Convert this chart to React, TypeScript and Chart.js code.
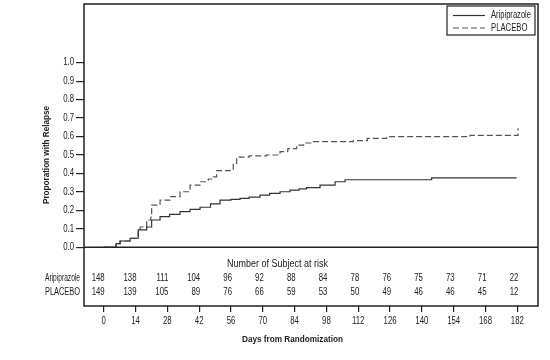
import React, { useEffect, useRef } from "react";
import { Chart, registerables } from "chart.js";

Chart.register(...registerables);

// ---- data ----
const seriesNames = ["Aripiprazole", "PLACEBO"];
const xTicks = [0, 14, 28, 42, 56, 70, 84, 98, 112, 126, 140, 154, 168, 182];
const yTicks = [0, 0.1, 0.2, 0.3, 0.4, 0.5, 0.6, 0.7, 0.8, 0.9, 1.0];

const ariDays = [0, 5.4, 7.2, 11.6, 15.2, 18.9, 21.1, 24.8, 29, 33.6, 38, 42.4, 47, 51.2, 56, 60, 64, 68.8, 73, 77.6, 82, 86, 89.3, 95.2, 101.8, 106.2, 144.3, 181.7];
const ariValues = [0, 0.02, 0.034, 0.049, 0.094, 0.11, 0.148, 0.166, 0.178, 0.193, 0.205, 0.217, 0.235, 0.256, 0.26, 0.265, 0.272, 0.283, 0.292, 0.301, 0.31, 0.316, 0.323, 0.337, 0.355, 0.366, 0.376, 0.376];

const plaDays = [0, 5.4, 7.2, 11.6, 15.2, 16, 18.9, 20.7, 21.1, 24.8, 29.2, 33.6, 38, 42.4, 46, 48.2, 49.7, 55.6, 57, 58.5, 64, 71.7, 77.6, 81, 84.9, 88, 92.2, 109.8, 116, 124.5, 161.2, 181.6, 182.3];
const plaValues = [0, 0.02, 0.034, 0.049, 0.094, 0.11, 0.148, 0.163, 0.229, 0.256, 0.274, 0.301, 0.337, 0.355, 0.37, 0.382, 0.415, 0.423, 0.455, 0.488, 0.495, 0.5, 0.518, 0.535, 0.554, 0.565, 0.572, 0.578, 0.59, 0.599, 0.606, 0.606, 0.645];

const riskHeader = "Number of Subject at risk";
const ariRisk = [148, 138, 111, 104, 96, 92, 88, 84, 78, 76, 75, 73, 71, 22];
const plaRisk = [149, 139, 105, 89, 76, 66, 59, 53, 50, 49, 46, 46, 45, 12];

const yTitle = "Proporation with Relapse";
const xTitle = "Days from Randomization";

const FONT = '"Liberation Sans", Arial, sans-serif';
const INK = "#222";
const SQ = 0.78; // horizontal squeeze to imitate the condensed face

function squeeze(ctx: any, text: string, x: number, y: number, align: string, font: string, s: number) {
  ctx.save();
  ctx.font = font;
  ctx.translate(x, y);
  ctx.scale(s, 1);
  ctx.textAlign = align;
  ctx.textBaseline = "middle";
  ctx.fillStyle = INK;
  ctx.fillText(text, 0, 0);
  ctx.restore();
}

function fit(ctx: any, text: string, x: number, y: number, align: string, font: string, width: number) {
  ctx.save();
  ctx.font = font;
  const w = ctx.measureText(text).width;
  ctx.restore();
  squeeze(ctx, text, x, y, align, font, width / w);
}

const overlay = {
  id: "overlay",
  afterDraw(chart: any) {
    const ctx = chart.ctx;
    const { left, right, top, bottom } = chart.chartArea;
    const xs = chart.scales.x;
    const ys = chart.scales.y;
    const y0 = ys.getPixelForValue(0);
    const f10 = `10px ${FONT}`;
    ctx.save();
    // box
    ctx.strokeStyle = INK;
    ctx.lineWidth = 1.5;
    ctx.strokeRect(left, top, right - left, bottom - top);
    // zero line
    ctx.beginPath();
    ctx.moveTo(left, y0);
    ctx.lineTo(right, y0);
    ctx.stroke();
    ctx.restore();

    // tick labels
    xs.ticks.forEach((t: any) => {
      squeeze(ctx, String(t.value), xs.getPixelForValue(t.value), bottom + 15, "center", f10, SQ);
    });
    ys.ticks.forEach((t: any) => {
      squeeze(ctx, Number(t.value).toFixed(1), left - 10, ys.getPixelForValue(t.value), "right", f10, SQ);
    });

    // at-risk table
    fit(ctx, riskHeader, xs.getPixelForValue(76.5), y0 + 17, "center", f10, 101);
    xTicks.forEach((d, i) => {
      const px = xs.getPixelForValue(d) + 1;
      squeeze(ctx, String(ariRisk[i]), px, y0 + 30.5, "right", f10, SQ);
      squeeze(ctx, String(plaRisk[i]), px, y0 + 45, "right", f10, SQ);
    });
    fit(ctx, seriesNames[0], left - 4, y0 + 30.5, "right", f10, 35);
    fit(ctx, seriesNames[1], left - 4, y0 + 45, "right", f10, 35);

    // legend
    const lx = right - 91, ly = top + 2, lw = 88, lh = 29;
    ctx.save();
    ctx.lineWidth = 1.2;
    ctx.strokeStyle = INK;
    ctx.strokeRect(lx, ly, lw, lh);
    const ds = chart.data.datasets;
    [0, 1].forEach((k) => {
      const yy = ly + 9.5 + k * 12.5;
      ctx.beginPath();
      ctx.strokeStyle = ds[k].borderColor;
      ctx.lineWidth = 1.2;
      ctx.setLineDash(ds[k].borderDash || []);
      ctx.moveTo(lx + 6, yy);
      ctx.lineTo(lx + 38, yy);
      ctx.stroke();
      ctx.setLineDash([]);
    });
    ctx.restore();
    fit(ctx, seriesNames[0], lx + 44, ly + 9.5, "left", f10, 40);
    fit(ctx, seriesNames[1], lx + 44, ly + 22, "left", f10, 36.5);

    // titles
    const fb = `bold 9px ${FONT}`;
    fit(ctx, xTitle, 292.5, 340, "center", fb, 101);
    ctx.save();
    ctx.translate(46.5, (ys.getPixelForValue(0) + ys.getPixelForValue(1)) / 2);
    ctx.rotate(-Math.PI / 2);
    fit(ctx, yTitle, 0, 0, "center", fb, 98);
    ctx.restore();
  },
};

export default function App() {
  const ref = useRef<HTMLCanvasElement | null>(null);
  useEffect(() => {
    if (!ref.current) return;
    const chart = new Chart(ref.current, {
      type: "line",
      data: {
        datasets: [
          {
            label: seriesNames[0],
            data: ariDays.map((d, i) => ({ x: d, y: ariValues[i] })),
            stepped: "before",
            borderColor: "#333",
            borderWidth: 1.2,
            pointRadius: 0,
            fill: false,
          },
          {
            label: seriesNames[1],
            data: plaDays.map((d, i) => ({ x: d, y: plaValues[i] })),
            stepped: "before",
            borderColor: "#555",
            borderWidth: 1.2,
            borderDash: [6, 3],
            pointRadius: 0,
            fill: false,
          },
        ],
      },
      options: {
        responsive: false,
        animation: false,
        layout: { padding: { top: 4, right: 12, left: 0, bottom: 0 } },
        plugins: { legend: { display: false }, tooltip: { enabled: false } },
        scales: {
          x: {
            type: "linear",
            min: -8.67,
            max: 191.1,
            afterBuildTicks: (s: any) => {
              s.ticks = xTicks.map((v) => ({ value: v }));
            },
            afterFit: (s: any) => {
              s.height = 54;
            },
            grid: { drawOnChartArea: false, tickLength: 6, color: INK, lineWidth: 1.2 },
            border: { display: false },
            ticks: { display: false },
          },
          y: {
            type: "linear",
            min: -0.318,
            max: 1.318,
            afterBuildTicks: (s: any) => {
              s.ticks = yTicks.map((v) => ({ value: v }));
            },
            afterFit: (s: any) => {
              s.width = 84;
            },
            grid: { drawOnChartArea: false, tickLength: 8, color: INK, lineWidth: 1.2 },
            border: { display: false },
            ticks: { display: false },
          },
        },
      },
      plugins: [overlay],
    });
    return () => chart.destroy();
  }, []);
  return (
    <div style={{ position: "absolute", left: 0, top: 0, width: 550, height: 360, background: "#fff" }}>
      <canvas ref={ref} width={550} height={360} />
    </div>
  );
}
